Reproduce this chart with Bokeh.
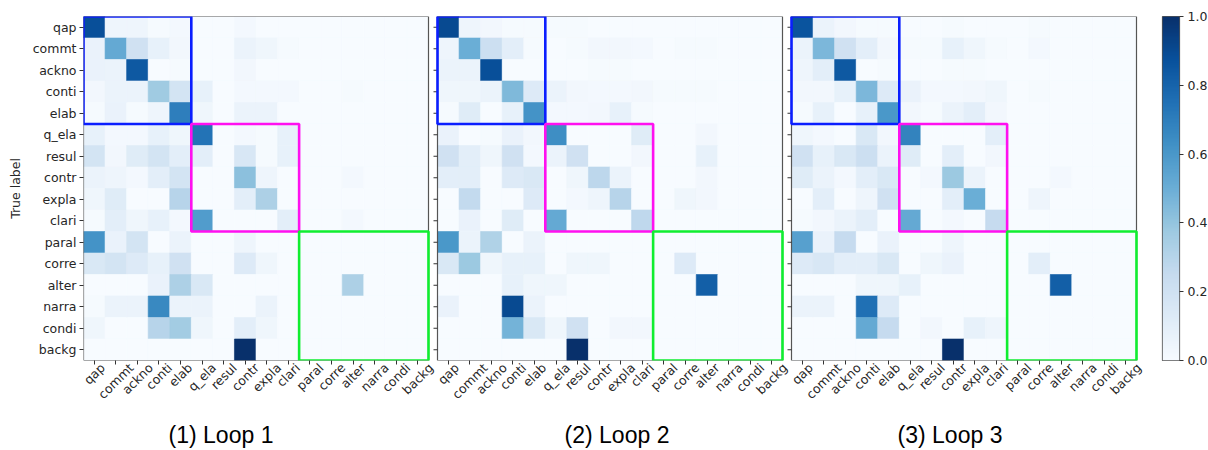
import numpy as np
import pandas as pd
from math import pi
from bokeh.plotting import figure
from bokeh.models import (FactorRange, Range1d, LinearColorMapper, FixedTicker,
                          PrintfTickFormatter, LinearAxis)
from bokeh.core.properties import value
from bokeh.layouts import row, column
from bokeh.transform import linear_cmap
from bokeh.palettes import Blues256
from bokeh.embed import file_html
from bokeh.resources import INLINE

labels = ["qap", "commt", "ackno", "conti", "elab", "q_ela", "resul", "contr",
          "expla", "clari", "paral", "corre", "alter", "narra", "condi", "backg"]

titles = ["(1) Loop 1", "(2) Loop 2", "(3) Loop 3"]

group_start = [0, 5, 10]
group_end = [5, 10, 16]
group_colors = ["#0a1eff", "#ff10f0", "#10ee30"]

loop1 = [
    [0.88, 0.05, 0.05, 0.01, 0.02, 0, 0, 0.02, 0, 0, 0, 0, 0, 0, 0, 0],
    [0.07, 0.52, 0.20, 0.08, 0.03, 0, 0, 0.06, 0.04, 0.01, 0, 0, 0, 0, 0, 0],
    [0.07, 0.06, 0.84, 0, 0.01, 0, 0, 0.03, 0, 0, 0, 0, 0, 0, 0, 0],
    [0.03, 0.06, 0.06, 0.37, 0.18, 0.08, 0, 0.02, 0.02, 0.02, 0, 0, 0.01, 0, 0, 0],
    [0.01, 0.07, 0.01, 0.05, 0.70, 0.04, 0, 0.06, 0.06, 0, 0, 0, 0, 0, 0, 0],
    [0.08, 0.02, 0.02, 0.08, 0.04, 0.74, 0, 0.02, 0.01, 0.08, 0, 0, 0, 0, 0, 0],
    [0.18, 0.03, 0.12, 0.18, 0.10, 0.10, 0, 0.16, 0.01, 0.08, 0, 0, 0, 0, 0, 0],
    [0.06, 0.05, 0.02, 0.10, 0.18, 0, 0, 0.42, 0.05, 0, 0, 0, 0.02, 0, 0, 0],
    [0.04, 0.12, 0, 0, 0.30, 0, 0, 0.10, 0.33, 0, 0, 0, 0, 0, 0, 0],
    [0.01, 0.10, 0.04, 0.08, 0.02, 0.58, 0, 0, 0, 0.10, 0, 0, 0.02, 0, 0, 0],
    [0.62, 0.07, 0.18, 0, 0.06, 0, 0, 0.05, 0, 0, 0, 0, 0, 0, 0, 0],
    [0.15, 0.18, 0.13, 0.08, 0.20, 0, 0, 0.13, 0.04, 0, 0, 0, 0, 0, 0, 0],
    [0, 0, 0, 0.07, 0.33, 0.15, 0, 0, 0, 0, 0, 0, 0.33, 0, 0, 0],
    [0.01, 0.06, 0.06, 0.66, 0.06, 0.06, 0, 0, 0.06, 0, 0, 0, 0, 0, 0, 0],
    [0.04, 0, 0, 0.30, 0.36, 0.04, 0, 0.10, 0.04, 0, 0, 0, 0, 0, 0, 0],
    [0, 0, 0, 0, 0, 0, 0, 1.00, 0, 0, 0, 0, 0, 0, 0, 0],
]

loop2 = [
    [0.90, 0.05, 0.03, 0.01, 0.01, 0.01, 0.01, 0, 0, 0, 0, 0, 0, 0, 0, 0],
    [0.05, 0.50, 0.22, 0.10, 0.01, 0, 0.01, 0.03, 0.03, 0.02, 0, 0.01, 0.01, 0, 0, 0],
    [0.06, 0.06, 0.88, 0, 0, 0, 0, 0.01, 0.01, 0, 0, 0, 0, 0, 0, 0],
    [0.04, 0.04, 0.06, 0.45, 0.13, 0.06, 0.03, 0.02, 0.02, 0.03, 0.01, 0.01, 0.01, 0, 0, 0],
    [0.01, 0.12, 0, 0.08, 0.62, 0.02, 0.02, 0.03, 0.08, 0.01, 0, 0, 0, 0, 0, 0],
    [0.07, 0, 0.01, 0.07, 0.03, 0.64, 0, 0, 0, 0.12, 0, 0, 0.03, 0, 0, 0],
    [0.20, 0.10, 0.04, 0.20, 0.02, 0.06, 0.20, 0, 0, 0.03, 0, 0, 0.08, 0, 0, 0],
    [0.10, 0.10, 0, 0.13, 0.15, 0, 0.04, 0.28, 0.06, 0, 0, 0, 0.03, 0, 0, 0],
    [0, 0.26, 0, 0, 0.13, 0, 0.02, 0.05, 0.30, 0, 0, 0.04, 0.03, 0, 0, 0],
    [0, 0.07, 0, 0.12, 0, 0.52, 0, 0, 0, 0.27, 0, 0, 0, 0, 0, 0],
    [0.60, 0.06, 0.32, 0, 0.06, 0, 0, 0, 0, 0, 0, 0, 0, 0, 0, 0],
    [0.15, 0.38, 0.04, 0.08, 0.08, 0, 0.04, 0.04, 0, 0, 0, 0.13, 0, 0, 0, 0],
    [0, 0, 0, 0.08, 0.04, 0.04, 0, 0, 0, 0, 0, 0, 0.82, 0, 0, 0],
    [0.07, 0, 0, 0.90, 0.06, 0, 0, 0, 0, 0, 0, 0, 0, 0, 0, 0],
    [0, 0, 0, 0.48, 0.15, 0.04, 0.20, 0, 0.03, 0.03, 0, 0, 0, 0, 0, 0],
    [0, 0, 0, 0, 0, 0, 1.00, 0, 0, 0, 0, 0, 0, 0, 0, 0],
]

loop3 = [
    [0.86, 0.06, 0.03, 0.01, 0.01, 0, 0, 0.01, 0, 0, 0, 0.01, 0, 0, 0, 0],
    [0.06, 0.46, 0.20, 0.10, 0.03, 0.01, 0.01, 0.08, 0.04, 0.01, 0, 0.02, 0, 0, 0, 0],
    [0.05, 0.10, 0.84, 0, 0.01, 0, 0, 0.01, 0.01, 0, 0, 0, 0, 0, 0, 0],
    [0.03, 0.03, 0.08, 0.46, 0.13, 0.07, 0.02, 0.02, 0.03, 0.04, 0, 0.01, 0, 0, 0, 0],
    [0.01, 0.08, 0, 0.08, 0.60, 0.03, 0.01, 0.06, 0.10, 0.03, 0, 0, 0, 0, 0, 0],
    [0.04, 0.02, 0, 0.15, 0.03, 0.68, 0, 0, 0, 0.10, 0, 0, 0, 0, 0, 0],
    [0.20, 0.08, 0.15, 0.22, 0.06, 0.12, 0, 0.10, 0, 0.03, 0, 0, 0, 0, 0, 0],
    [0.12, 0.06, 0.02, 0.10, 0.15, 0, 0.02, 0.38, 0.06, 0, 0, 0, 0.02, 0, 0, 0],
    [0, 0.10, 0, 0.05, 0.20, 0, 0, 0.10, 0.50, 0, 0, 0.05, 0, 0, 0, 0],
    [0.01, 0.03, 0.06, 0.10, 0, 0.52, 0, 0.02, 0, 0.25, 0, 0, 0, 0, 0, 0],
    [0.56, 0.07, 0.25, 0, 0.07, 0, 0, 0.05, 0, 0, 0, 0, 0, 0, 0, 0],
    [0.13, 0.16, 0.10, 0.10, 0.15, 0, 0.04, 0.07, 0, 0, 0, 0.10, 0, 0, 0, 0],
    [0, 0, 0, 0.04, 0.04, 0.08, 0, 0, 0, 0, 0, 0, 0.82, 0, 0, 0],
    [0.06, 0.06, 0, 0.75, 0.13, 0, 0, 0, 0, 0, 0, 0, 0, 0, 0, 0],
    [0, 0, 0, 0.52, 0.25, 0, 0.03, 0, 0.08, 0.05, 0, 0, 0, 0, 0, 0],
    [0, 0, 0, 0, 0, 0, 0, 1.00, 0, 0, 0, 0, 0, 0, 0, 0],
]

loops = [loop1, loop2, loop3]

# ---------------- layout constants ----------------
palette = list(Blues256)[::-1]
n = len(labels)
FONT = "DejaVu Sans"
TXT = "#262626"
TICK_FS = 12.5
CELL_PX = 345 / 16
GAP = 9 / CELL_PX                  # gap between matrices, in cell units
SPAN = 16 + GAP
FRAME_W = 1075                     # three matrices + gaps + room for last rotated label
XMAX = FRAME_W / CELL_PX
FRAME_H = 344
LEFT = 83
BOTTOM = 52
CAP_H = 450 - 16 - FRAME_H - BOTTOM
CAP_MID = 16                       # caption centre, px above the bottom of the page
title_shift_px = [-35, 7, -14]     # caption centre relative to matrix centre

# DejaVu Sans advance widths (em) used to centre the rotated tick labels
CHAR_EM = {"a": 0.613, "b": 0.635, "c": 0.550, "d": 0.635, "e": 0.615, "g": 0.635,
           "i": 0.278, "k": 0.579, "l": 0.278, "m": 0.974, "n": 0.634, "o": 0.612,
           "p": 0.635, "q": 0.635, "r": 0.411, "s": 0.521, "t": 0.392, "u": 0.634,
           "x": 0.592, "_": 0.500}

offsets = [k * SPAN for k in range(3)]

xs, ys, vs = [], [], []
for k, mat in enumerate(loops):
    for i, r in enumerate(mat):
        for j, v in enumerate(r):
            xs.append(offsets[k] + j + 0.5)
            ys.append(labels[i])
            vs.append(v)
df = pd.DataFrame({"x": xs, "y": ys, "v": vs})

p = figure(x_range=Range1d(0, XMAX), y_range=FactorRange(*labels[::-1]),
           frame_width=FRAME_W, frame_height=FRAME_H,
           min_border_left=LEFT, min_border_right=0, min_border_top=16, min_border_bottom=BOTTOM,
           output_backend="svg", toolbar_location=None, tools="")
p.xaxis.visible = False
p.grid.visible = False
p.outline_line_color = None

cmap = linear_cmap("v", palette, 0, 1)
p.rect(x="x", y="y", width=1, height=1, source=df, fill_color=cmap, line_color=cmap, line_width=0.6)

# matrix frames
p.quad(left=offsets, right=[o + n for o in offsets], top=[n] * 3, bottom=[0] * 3,
       fill_color=None, line_color="#555555", line_width=1.2)

# left ticks for matrices 2 and 3
tick_len = 4 / CELL_PX
seg_x0, seg_x1, seg_y = [], [], []
for k in (1, 2):
    for lab in labels:
        seg_x0.append(offsets[k] - tick_len)
        seg_x1.append(offsets[k])
        seg_y.append(lab)
p.segment(x0=seg_x0, x1=seg_x1, y0=seg_y, y1=seg_y, line_color="#333333", line_width=1)

# group boxes
for k in range(3):
    p.quad(left=[offsets[k] + s for s in group_start], right=[offsets[k] + e for e in group_end],
           top=[n - s for s in group_start], bottom=[n - e for e in group_end],
           fill_color=None, line_color=group_colors, line_width=2.6)

# y axis
p.yaxis.axis_line_color = None
p.yaxis.major_tick_out = 4
p.yaxis.major_tick_in = 0
p.yaxis.major_tick_line_color = "#333333"
p.yaxis.major_label_text_font = FONT
p.yaxis.major_label_text_font_size = f"{TICK_FS}px"
p.yaxis.major_label_text_color = TXT
p.yaxis.major_label_standoff = 3
p.yaxis.axis_label = "True label"
p.yaxis.axis_label_text_font = FONT
p.yaxis.axis_label_text_font_size = f"{TICK_FS}px"
p.yaxis.axis_label_text_font_style = "normal"
p.yaxis.axis_label_text_color = TXT
p.yaxis.axis_label_standoff = 7

# x ticks (marks only)
tick_pos = [offsets[k] + j + 0.5 for k in range(3) for j in range(n)]
ax_ticks = LinearAxis(ticker=FixedTicker(ticks=tick_pos), axis_line_color=None,
                      major_tick_out=4, major_tick_in=0, minor_tick_out=0, minor_tick_in=0,
                      major_tick_line_color="#333333", major_label_text_font_size="1px",
                      major_label_text_color=None, major_label_standoff=0)
p.add_layout(ax_ticks, "below")

# x tick labels, rotated 45 deg and centred on their ticks
lab_pos, overrides = [], {}
for k in range(3):
    for j, lab in enumerate(labels):
        w_px = sum(CHAR_EM[c] for c in lab) * TICK_FS
        pos = round(offsets[k] + j + 0.5 + 0.354 * w_px / CELL_PX, 5)
        lab_pos.append(pos)
        overrides[pos] = lab
ax_labels = LinearAxis(ticker=FixedTicker(ticks=lab_pos), axis_line_color=None,
                       major_tick_out=0, major_tick_in=0, minor_tick_out=0, minor_tick_in=0,
                       major_label_overrides=overrides, major_label_orientation=pi / 4,
                       major_label_text_font=FONT, major_label_text_font_size=f"{TICK_FS}px",
                       major_label_text_color=TXT, major_label_standoff=1)
p.add_layout(ax_labels, "below")

# captions, in a strip below the matrices sharing the same x scale
pcap = figure(x_range=p.x_range, y_range=Range1d(0, CAP_H), frame_width=FRAME_W, frame_height=CAP_H,
              min_border_left=LEFT, min_border_right=0, min_border_top=0, min_border_bottom=0,
              output_backend="svg", toolbar_location=None, tools="")
pcap.axis.visible = False
pcap.grid.visible = False
pcap.outline_line_color = None
cap_x = [offsets[k] + n / 2 + title_shift_px[k] / CELL_PX for k in range(3)]
pcap.text(x=cap_x, y=[CAP_MID] * 3, text=titles, text_align="center", text_baseline="middle",
          text_font=value("Liberation Sans"), text_font_size=value("23px"), text_color="black")

# colour bar
mapper = LinearColorMapper(palette=palette, low=0, high=1)
pcb = figure(x_range=(0, 1), y_range=(0, 1), frame_width=17, frame_height=FRAME_H,
             min_border_left=1162 - LEFT - FRAME_W, min_border_right=29, min_border_top=16,
             min_border_bottom=BOTTOM,
             y_axis_location="right", output_backend="svg", toolbar_location=None, tools="")
grad = np.linspace(0, 1, 256).reshape(256, 1)
pcb.image(image=[grad], x=0, y=0, dw=1, dh=1, color_mapper=mapper)
pcb.xaxis.visible = False
pcb.grid.visible = False
pcb.outline_line_color = "#555555"
pcb.outline_line_width = 1.2
pcb.yaxis.axis_line_color = None
pcb.yaxis.ticker = FixedTicker(ticks=[0, 0.2, 0.4, 0.6, 0.8, 1.0])
pcb.yaxis.formatter = PrintfTickFormatter(format="%.1f")
pcb.yaxis.major_tick_out = 4
pcb.yaxis.major_tick_in = 0
pcb.yaxis.minor_tick_out = 0
pcb.yaxis.minor_tick_in = 0
pcb.yaxis.major_tick_line_color = "#333333"
pcb.yaxis.major_label_standoff = 4
pcb.yaxis.major_label_text_font = FONT
pcb.yaxis.major_label_text_font_size = f"{TICK_FS}px"
pcb.yaxis.major_label_text_color = TXT

layout = column(row(p, pcb), pcap)
open("out.html", "w").write(file_html(layout, INLINE))
